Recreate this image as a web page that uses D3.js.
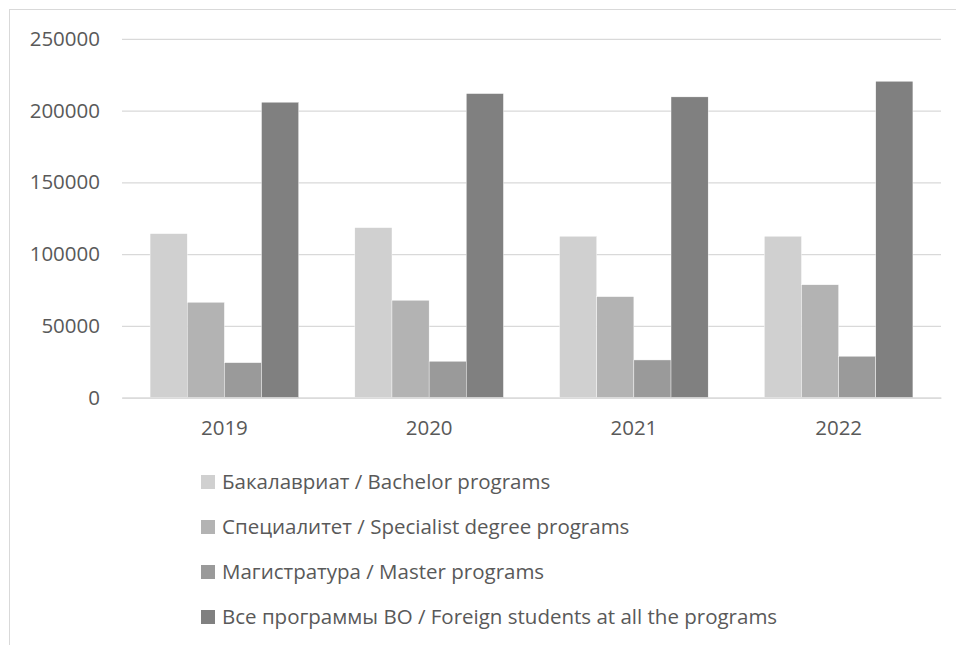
<!DOCTYPE html>
<html><head><meta charset="utf-8">
<script src="https://cdn.jsdelivr.net/npm/d3@7"></script>
<style>html,body{margin:0;padding:0;background:#fff;}svg{display:block;}</style>
</head><body>
<svg id="chart" width="956" height="645"></svg>
<script>
const years = ["2019", "2020", "2021", "2022"];
const seriesNames = [
  "Бакалавриат / Bachelor programs",
  "Специалитет / Specialist degree programs",
  "Магистратура / Master programs",
  "Все программы ВО / Foreign students at all the programs"
];
const bachelor = [114300, 118500, 112500, 112500];
const specialist = [66500, 67900, 70400, 78700];
const master = [24400, 25400, 26300, 28900];
const allPrograms = [205900, 211900, 209600, 220500];
const seriesValues = [bachelor, specialist, master, allPrograms];
const yTicks = [0, 50000, 100000, 150000, 200000, 250000];
const colors = ["#d0d0d0", "#b3b3b3", "#9a9a9a", "#808080"];

const svg = d3.select("#chart");
const font = "'Open Sans', sans-serif";
const textColor = "#595959";
const fontSize = "20.5px";

// outer frame
svg.append("rect").attr("x", 9.5).attr("y", 9.5).attr("width", 1000).attr("height", 1000)
  .attr("fill", "none").attr("stroke", "#d9d9d9").attr("stroke-width", 1);

const pLeft = 122, pRight = 941, pTop = 38.9, pBottom = 397.7;
const x0 = d3.scaleBand().domain(years).range([pLeft, pRight]).padding(0);
const x1 = d3.scaleBand().domain(d3.range(seriesNames.length)).range([0, x0.bandwidth()])
  .paddingInner(0).paddingOuter(0.756);
const y = d3.scaleLinear().domain([0, 250000]).range([pBottom, pTop]);

// gridlines
const yAxis = d3.axisLeft(y).tickValues(yTicks).tickSize(-(pRight - pLeft)).tickPadding(22)
  .tickFormat(d3.format("d"));
const gy = svg.append("g").attr("transform", `translate(${pLeft},0)`).call(yAxis);
gy.select(".domain").remove();
gy.selectAll(".tick line").attr("stroke", "#d9d9d9").attr("stroke-width", 1.3);
gy.selectAll(".tick text").attr("fill", textColor).style("font-family", font).style("font-size", fontSize);

// bars
const groups = svg.append("g").selectAll("g").data(years).join("g")
  .attr("transform", d => `translate(${x0(d)},0)`);
groups.selectAll("rect")
  .data((d, i) => seriesValues.map((vals, s) => ({s, v: vals[i]})))
  .join("rect")
  .attr("x", d => x1(d.s))
  .attr("width", x1.bandwidth())
  .attr("y", d => y(d.v))
  .attr("height", d => y(0) - y(d.v))
  .attr("fill", d => colors[d.s])
  .attr("stroke", "#ffffff").attr("stroke-width", 0.4);

// x axis (zero line + labels)
const xAxis = d3.axisBottom(x0).tickSize(0).tickPadding(23);
const gx = svg.append("g").attr("transform", `translate(0,${pBottom})`).call(xAxis);
gx.select(".domain").attr("stroke", "#d9d9d9").attr("stroke-width", 1.3);
gx.selectAll(".tick text").attr("fill", textColor).style("font-family", font).style("font-size", fontSize);

// legend
const legend = svg.append("g");
const legY = d3.scalePoint().domain(d3.range(seriesNames.length)).range([482, 617]);
const li = legend.selectAll("g").data(seriesNames).join("g")
  .attr("transform", (d, i) => `translate(201,${legY(i)})`);
li.append("rect").attr("x", 0).attr("y", -7).attr("width", 14).attr("height", 14)
  .attr("fill", (d, i) => colors[i]);
li.append("text").attr("x", 21).attr("y", 0).attr("dy", "0.35em")
  .attr("fill", textColor).style("font-family", font).style("font-size", fontSize)
  .text(d => d);
</script>
</body></html>
